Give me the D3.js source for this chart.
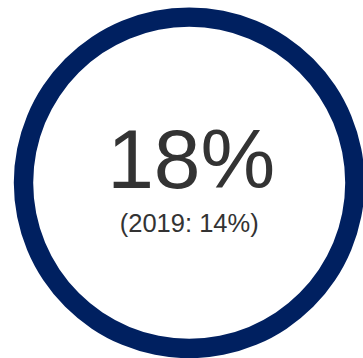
<!DOCTYPE html>
<html>
<head>
<meta charset="utf-8">
<script src="https://cdn.jsdelivr.net/npm/d3@7"></script>
<style>
  html, body { margin: 0; padding: 0; background: #fff; }
  svg { display: block; }
</style>
</head>
<body>
<svg id="chart" width="363" height="358"></svg>
<script>
// KPI figures
const currentValue = [18];
const priorYear = [2019];
const priorValue = [14];
// full ring share (the ring is drawn as one closed band)
const ringShare = [100];

const svg = d3.select("#chart");
const cx = 189.2, cy = 182.8;
const innerR = 156, outerR = 175.4;

const pie = d3.pie().sort(null).value(d => d);
const arc = d3.arc().innerRadius(innerR).outerRadius(outerR);

const g = svg.append("g").attr("transform", `translate(${cx},${cy})`);

g.selectAll("path.ring")
  .data(pie(ringShare))
  .join("path")
  .attr("class", "ring")
  .attr("d", arc)
  .attr("fill", "#002060");

const pct = d3.format("d");

g.append("text")
  .attr("text-anchor", "middle")
  .attr("x", 2)
  .attr("y", 187.5 - cy)
  .attr("font-family", "'Liberation Sans', Arial, sans-serif")
  .attr("font-size", 84)
  .attr("fill", "#333333")
  .text(pct(currentValue[0]) + "%");

g.append("text")
  .attr("text-anchor", "middle")
  .attr("x", 0)
  .attr("y", 232 - cy)
  .attr("font-family", "'Liberation Sans', Arial, sans-serif")
  .attr("font-size", 25.5)
  .attr("fill", "#333333")
  .text(`(${priorYear[0]}: ${pct(priorValue[0])}%)`);
</script>
</body>
</html>
